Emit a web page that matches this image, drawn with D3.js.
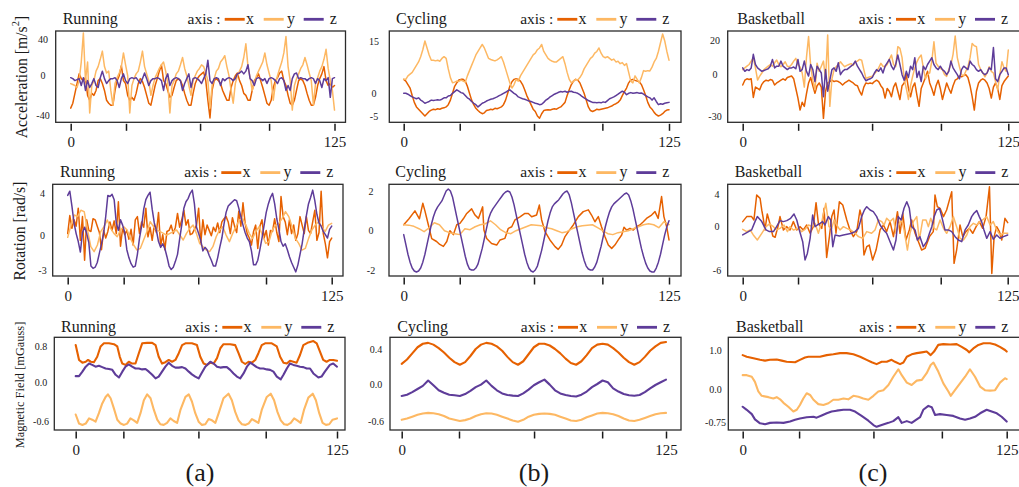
<!DOCTYPE html>
<html><head><meta charset="utf-8">
<script src="https://cdn.jsdelivr.net/npm/d3@7"></script>
<style>
body{margin:0;background:#fff}
svg{display:block}
text{font-family:"Liberation Serif","Times New Roman",serif;fill:#1a1a1a}
</style>
</head><body>
<svg id="chart" width="1019" height="487"></svg>
<script>
// ---------------- DATA ----------------
const activities = ["Running", "Cycling", "Basketball"];
const axisNames = ["x", "y", "z"];
const panelLetters = ["(a)", "(b)", "(c)"];
const yTitles = ["Acceleration [m/s", "Rotation [rad/s]", "Magnetic Field [mGauss]"];
const xTickLabelValues = [0, 125];
// y tick values and labels per sensor row, per activity
const accTicks = [[-40, 0, 40], [-5, 0, 15], [-30, 0, 20]];
const rotTicks = [[-3, 0, 4], [-2, 0, 2], [-6, 0, 4]];
const magTicks = [[-0.6, 0, 0.8], [-0.6, 0, 0.4], [-0.75, 0, 1.0]];
const accTickText = [["-40", "0", "40"], ["-5", "0", "15"], ["-30", "0", "20"]];
const rotTickText = [["-3", "0", "4"], ["-2", "0", "2"], ["-6", "0", "4"]];
const magTickText = [["-0.6", "0.0", "0.8"], ["-0.6", "0.0", "0.4"], ["-0.75", "0.0", "1.0"]];
// x tick values (sample index) per row, per activity
const xTickVals = [
  [[0, 26.2, 61.3, 94, 125], [0, 26.4, 61.4, 93.6, 125], [0, 26.1, 60.9, 93.3, 125]],
  [[0, 26.5, 61.8, 93.9, 125], [0, 26.4, 61.4, 93.6, 125], [0, 26.1, 61.1, 93.4, 125]],
  [[0, 22.8, 58.7, 90.9, 125], [0, 27.1, 62.6, 94.8, 125], [0, 26.7, 61.9, 94.3, 125]]
];

// ---- Acceleration, Running (126 samples each) ----
const accRunX = [-33,-28,-18,-8,2,-3,-5,-2,-20,-25,
-18,-20,-15,-5,-3,-8,-15,-25,-28,-30,
-30,-15,-5,0,11,-5,-8,-20,-25,-22,
-25,-18,-8,-3,-6,-12,-20,-28,-30,-20,
-10,-3,5,12,-5,-8,-15,-22,-20,-12,
-5,-3,-5,-10,-18,-25,-30,-30,-18,-8,
-3,0,2,4,-5,-25,-43,-15,-5,-3,
-5,-8,-15,-20,-25,-25,-12,-5,0,3,
-5,-10,-18,-20,-25,-25,-15,-5,-2,2,
-5,-12,-20,-28,-30,-25,-12,-5,-2,3,
5,-5,-10,-20,-28,-30,-25,-15,-5,-3,
-5,-10,-18,-25,-30,-30,-22,-10,-3,2,
10,-5,-10,-8,-12,-10];
const accRunY = [-8,-9,-10,-12,-5,15,47,-5,15,-38,
-10,-5,5,10,18,27,10,3,5,-15,
-30,-8,-2,3,10,25,12,0,-38,-10,
-3,2,5,15,27,10,2,-5,-20,-10,
-2,3,8,12,15,5,-8,-38,-10,-5,
2,5,12,20,8,0,-10,-20,-5,0,
5,8,12,10,3,-5,-33,-10,-3,5,
8,15,18,22,10,0,-15,-28,-8,0,
5,10,20,35,10,-2,-15,-8,0,5,
10,15,25,12,3,-5,-25,-8,0,8,
15,25,43,10,-5,-35,-10,-3,2,8,
12,20,12,3,-5,-30,-8,-2,5,10,
18,29,8,-5,-15,-35];
const accRunZ = [-2,-3,-5,-4,-3,-10,-2,-15,-5,-12,
-8,-3,-10,-12,-2,5,-3,-8,-5,-3,
-3,-2,-5,-12,-3,2,-5,-8,-3,-2,
-3,-2,-5,-8,-3,3,-3,-10,-5,-3,
-3,-2,-3,-5,-15,-3,2,-10,-5,-3,
-2,-3,-5,-15,-8,-3,2,-12,-3,-2,
-3,-5,-8,-3,2,17,-5,-8,-3,-2,
-3,-10,-3,-5,-3,-2,-3,-5,-3,2,
3,5,2,5,12,-3,-5,-10,-3,-2,
-3,-5,-3,-8,-3,-2,-3,-5,-8,-3,
-2,-5,-15,-10,-15,-3,2,3,-3,-2,
-3,-3,-5,-3,-2,-3,-8,-3,-5,-12,
-3,-5,-2,-22,-3,-2];

// ---- Acceleration, Cycling ----
const accCycX = [4,3.5,2.5,1.5,-0.5,-2,-3,-3.5,-4,-4.5,
-5,-4.5,-4,-3.7,-3.5,-3.6,-3.4,-3.5,-3.3,-3.2,
-3,-2.5,-1.5,0,2,3,3.8,4,4,3.5,
2,0,-1.5,-2.5,-3.3,-3.8,-4.2,-4.5,-4.3,-3.8,
-3.7,-3.5,-3.6,-3.3,-3.4,-3.2,-3,-2.5,-1.5,0,
2,3.3,4,4.2,4,3.5,2.5,1,-0.5,-1.5,
-2.5,-3.5,-4,-5,-5.5,-4.5,-3.8,-3.7,-3.6,-3.7,
-3.5,-3.4,-3.5,-3.2,-3,-2.5,-2,-0.5,1,2.5,
3.5,4,3.8,3,1.5,0,-1.5,-3,-3.8,-4,
-3.8,-3.5,-3.6,-3.5,-3.4,-3.3,-3.2,-3,-2.8,-2.5,
-2.3,-2,-1.5,-0.5,0.5,1.5,3,3.8,4,3.7,
3.5,3.3,2.5,1,-0.5,-2,-3,-3.5,-4.2,-4.7,
-5,-4.8,-4.5,-4,-3.7,-3.6];
const accCycY = [4,4,5,5.5,6,7,8,9,10.5,12.5,
15,13,11,9.5,9.5,9.3,9.5,9.2,10,10.5,
10,7,4.5,3,3.2,3.5,3.4,3.8,3.5,3.2,
5,6.5,8,9.5,11,12,13,14,13,11.5,
10,9.7,9.5,9.3,9.6,10,10.5,9,7,5,
3,1.5,2.5,4,3.5,5,6,7,8,9,
10,11,11.5,12.5,13,14,12,11,10,9.5,
9.2,9,9,9.5,10,10.5,8.5,6,4,3,
3.5,4,3.8,4.5,5.5,7,8,9,10,10.5,
11.5,12,13,11.5,10.5,10.2,10.5,10,9.5,9.8,
9,9.2,8.5,8.8,8,8.5,6,3.5,3,5,
4,3,4.5,6.5,6.3,6.5,6.4,7.5,9,10,
12,14.5,17,15,12,9.5];
const accCycZ = [0,0,-0.2,-0.5,-0.8,-1,-1.2,-1,-1.5,-1.8,
-2.2,-2,-1.8,-1.5,-1.6,-1.5,-1.4,-1.5,-1.3,-1,
-1,-0.6,-0.5,0,0.5,1,0.6,0.2,0,-0.5,
-1,-1.3,-1.8,-2.2,-2.5,-3,-2.6,-2.2,-2,-1.7,
-1.5,-1.3,-1.2,-1,-0.8,-0.5,-0.3,0,0.3,0.7,
1,0.5,0,-0.3,-0.8,-1,-1.2,-1.3,-1.5,-1.7,
-1.8,-2,-2.2,-2.3,-2.5,-2.4,-2,-1.5,-1.2,-0.8,
-0.5,-0.2,0,0.3,0.5,0.4,0.6,0.3,0.5,0.6,
0.3,0.2,0,-0.3,-0.7,-1,-1.3,-1.6,-1.8,-2,
-2,-2.1,-2,-2.1,-1.9,-2,-1.6,-1.2,-1,-0.8,
-0.5,-0.2,0.2,0.6,0.3,-0.3,0,0.2,0,0.1,
0.2,0,0.1,-0.2,-0.5,-0.8,-1,-1.5,-1,-1.8,
-2.5,-2.3,-2.4,-2.2,-2.1,-2];

// ---- Acceleration, Basketball ----
const accBasX = [-7.5,-4,-3,-3.5,-3,-16.5,-9,-10,-11,-7,
-5,-4,-4.5,-3.5,-4,-7.5,-6,-5,-4,-3,
-4,-2,-1.5,-1,-3,-10,-17,-25.7,-20,-23,
-14,-6,-2,-8,-13.5,-8,-6,-9,-31.7,-12,
-6,-5,-4,-5,-4.5,-5,-6,-7.5,-6,-5,
-4,-5,-6,-7.5,-8,-12,-14.8,-9,-6,-6.5,
-6,-6.5,-5,-4,-5,-8,-10,-17,-10,-12,
-16,-9,-6,-12,-18,-8,-6,0,-10,-16,
-9,-6,-15,-23,-10,-6,-2,2,-6,-10,
-15,-8,-4,-10,-18,-12,-6,-10,-13.5,-8,
-4,-3,-1,-1.5,-0.5,0,-2,-8,-16,-25.7,
-12,-6,-4,-3,-4,-6,-10,-17,-9,-6,
-10,-18,-8,-5,-3,-1];
const accBasY = [3,4,5,6,8,10,4,-3.9,-1,1,
3,4,5,6,5,7,8.6,6,4.7,6,
7.6,5,4.7,6,8,9.6,6,4.5,1,-9,
10,22.4,5,-4,-11,6.7,2,5,8,-3,
23.3,-23,-3,3,4.7,6,7.6,6,4.7,5.5,
6,6.5,5.5,7.6,8,9,8.5,3,-2.7,-2,
-1.5,-1.2,0.5,2,4,6.7,5,4.7,6,9,
11.6,6,4.7,16.5,15.5,10,-3,-10,-18,-8,
-1,4,7.6,10,11.6,4,-3,0,1,8,
19.4,6.7,5,3.7,3,0,-1.2,3,6,12,
22.7,10,4.7,0,-1,2,4.7,10,18.4,17,
16.5,6,3,1,-1.5,1,4.7,2,1,-5,
-11,0,7.6,4,2,14.5];
const accBasZ = [4,2,3,2.5,4,12,6,4,3,2,
2.5,3,3.5,5,9,4,5,5,8,5,
4,3,4,4,4.5,3.5,9,2,3,8,
2,-1,6,3,-5,5,3,1,-16,3,
-12,-4,3,4,2,7,0,2,3,3,
4,5,6,8,5,3,1,-2,-4.4,-3.5,
-3,-2,1,3,2,4,1,5,7,9,
5,3,6,11.6,6,0,-4,2,-2,5,
3,10,-2,2,-5,5,3,6,8,10,
6,4,3,5,3,2,0,2,8,4,
2,0,-3,3,5,4,3,8,6,5,
3,2,3,1,0,1,4,3,16,-3,
-5,0,2,4,4,0];

// ---- Rotation, Running ----
const rotRunX = [0.2,1.9,0.7,1.5,0.9,2.6,-0.4,1.8,-2.1,1.5,
0.5,0.4,1.6,1.5,0.9,0.3,-1.2,0.5,-0.2,0.4,
1.3,0.5,1.4,0.2,3.2,-0.9,0.7,0.1,0.5,-0.3,
0.6,-0.8,1.5,1.8,0.2,1.3,0.8,2.6,-0.1,0.8,
-0.4,1.0,0.3,2.2,-0.9,0.1,-1.2,0.4,0.5,1.0,
0.2,0.8,2.1,0.8,1.5,2.4,1.0,1.5,0.1,0.2,
0.6,1.0,2.6,-0.7,1.5,0.1,1.0,0.5,0,0.8,
0.4,1.2,0.3,1.3,1.6,1.8,1.3,0.2,1.7,0.9,
0.3,2.3,0.9,3.1,1.2,0.2,-0.2,-0.8,0.4,1.0,
-1.1,0.9,1.5,-0.2,0.5,-0.8,0.5,0.4,1.6,0.3,
-0.5,3.7,1.8,1.3,0.1,1.5,0.2,1.0,-0.4,0.2,
1.8,1.0,0.2,1.8,0.5,0.2,1.3,2.4,-0.4,0.3,
4.2,0.2,-0.7,-1.9,-0.5,-0.2];
const rotRunY = [-0.14,1.0,1.95,1.8,2.4,2.27,0.54,-0.94,-1.37,-0.8,
0.38,0.85,1.48,0.69,0.22,-0.09,0.54,0.85,0.54,-0.23,
-0.8,-1.23,-1.09,-0.37,0.38,1.32,0.85,0.54,0.38,0.22,
0.06,0.22,0.38,0.54,0.06,-0.37,0.22,0.69,1.0,0.22,
-0.66,-0.94,-1.23,-1.37,-0.94,-0.09,0.54,0.85,0.06,-0.51,
0.22,0.85,1.48,1.64,1.0,0.22,-0.23,0.38,0.85,0.06,
-0.66,-0.51,0.54,1.0,1.17,1.64,2.27,1.8,0.85,-0.23,
-0.66,-1.23,-1.09,-0.23,0.54,1.0,1.32,0.85,0.38,1.0,1.17];
const rotRunZ = [3.8,4.2,2.8,1.2,0.2,-0.5,-1.4,0.3,0.8,0.2,
-0.6,-2.6,-2.8,-2.7,-2.3,-1.5,-0.7,0.2,1.8,3.8,
3.7,3.9,3.4,1.2,0.5,1.5,1.0,0.3,-1.2,-1.9,
-2.4,-2.7,-2.6,-1.6,-0.2,0.9,2.5,3.4,3.8,4.1,
2.5,1.2,0.5,-0.5,-1.0,-0.7,-1.1,-1.8,-2.6,-2.9,
-2.7,-2.2,-1.6,-0.3,1.0,2.6,3.2,3.5,4.0,4.3,
3.0,0.8,0.2,-0.4,-1.3,-1.0,-1.2,-1.7,-2.1,-2.6,
-2.6,-1.9,-1.0,-0.2,1.1,2.2,2.8,3.0,3.2,3.4,
3.3,2.6,1.8,1.0,0.3,-0.2,-0.5,-1.3,-2.5,-2.5,
-2.1,-1.2,-0.2,1.0,2.2,3.0,3.6,4.0,3.0,1.6,
0.6,-0.5,-0.9,-0.7,-1.2,-1.8,-2.3,-2.7,-3.1,-2.5,
-1.6,-0.7,0.6,1.9,3.0,3.6,4.3,3.3,2.0,1.2,
0.9,0.4,0.1,-0.2,0.6,0.9];

// ---- Rotation, Cycling ----
const rotCycX = [[0,0.3],[2.5,0.6],[5.3,1.0],[7.4,0.6],[9,1.38],[10,1.0],[11.6,0.3],[13.2,-0.4],[15.5,-0.55],[17,-0.7],
[18.7,-0.8],[20.3,-0.55],[21.8,0],[23.4,-0.2],[25,0.3],[26.5,0.37],[28.1,0.6],[29.7,0.87],[32,1.1],[33.6,0.79],
[35.2,0.62],[37.2,1.2],[37.8,0.03],[39.1,-0.4],[41.4,-0.65],[43.8,-0.73],[45.4,-0.47],[47.7,-0.39],[49.3,0.12],[50.9,0.2],
[52.4,0.54],[54.8,0.7],[57.1,0.87],[58.7,0.87],[60.3,0.7],[62.6,0.79],[63.9,1.29],[65,0.54],[66.6,-0.05],[68.9,-0.47],
[71.3,-0.81],[72.8,-0.95],[74.4,-0.73],[76,-0.3],[77.6,-0.05],[79.9,0.29],[82.3,0.71],[84.6,0.96],[87,1.05],[88.5,0.79],
[90.1,0.45],[91.7,0.71],[93.2,0.2],[94.8,-0.3],[96.4,-0.73],[98,-0.9],[99.5,-0.73],[101.1,-0.47],[102.7,-0.22],[103.8,0.17],
[105,0.03],[106.6,0.12],[108.2,0.03],[109.7,0.2],[111.3,0.29],[112.9,0.45],[114.4,0.62],[116.8,0.79],[118.4,0.96],[119.9,0.62],
[121.5,1.72],[122.6,0.71],[123.9,0.2],[125,-0.47]];
const rotCycY = [0.3,0.28,0.22,0.1,-0.05,0.15,0.4,0.3,0.0,-0.1,
-0.15,-0.2,0.1,0.05,0.2,0.3,0.35,0.5,0.3,0.05,
-0.1,-0.15,0.0,0.1,0.2,0.3,0.28,0.25,0.15,0.1,
0.0,-0.1,-0.05,0.1,0.2,0.25,0.28,0.3,0.15,0.0,
-0.15,-0.2,-0.1,-0.05,0.0,0.1,0.2,0.3,0.35,0.3,
0.15,0.45,0.3];
const rotCycZ = [-0.2,-0.7,-1.2,-1.6,-1.9,-2.05,-2.1,-2.05,-1.9,-1.6,
-1.2,-0.7,-0.2,0.3,0.7,1.0,1.2,1.35,1.5,1.75,
2.0,2.1,2.0,1.7,1.2,0.7,0.2,-0.3,-0.8,-1.3,
-1.7,-1.95,-2.0,-2.0,-1.9,-1.7,-1.3,-0.9,-0.4,0.1,
0.6,0.9,1.1,1.25,1.4,1.55,1.7,1.85,1.95,2.0,
1.95,1.7,1.3,0.8,0.3,-0.2,-0.7,-1.2,-1.6,-1.9,
-2.05,-2.1,-2.0,-1.8,-1.4,-1.0,-0.5,0,0.5,0.9,
1.2,1.35,1.45,1.55,1.7,1.85,1.95,2.0,1.8,1.4,
0.9,0.4,-0.1,-0.6,-1.1,-1.5,-1.8,-1.95,-2.0,-2.0,
-1.85,-1.6,-1.2,-0.8,-0.3,0.2,0.6,0.95,1.2,1.35,
1.45,1.55,1.65,1.75,1.85,1.9,1.8,1.5,1.1,0.6,
0.1,-0.4,-0.9,-1.3,-1.65,-1.9,-2.05,-2.1,-2.1,-1.9,
-1.6,-1.2,-0.7,-0.2,0.2,0.5];

// ---- Rotation, Basketball ----
const rotBasX = [[0,0.58],[1.9,1.2],[4.2,1.2],[5.3,0.78],[6.6,3.88],[8.2,3.46],[9,2.0],[9.7,0.99],[10.5,-0.5],[11.6,1.53],
[12.6,0.58],[14.2,-1.33],[15.3,-1.51],[16.8,0.16],[17.6,1.2],[19.2,-0.5],[20.8,-0.05],[22.3,-0.5],[23.9,0.58],[25.5,-0.5],
[27,-0.05],[28.6,-0.5],[30.2,0.16],[31.8,-0.96],[33.3,-0.05],[34.6,2.93],[35.7,0.37],[37.3,-0.28],[38.4,2.23],[39.6,-4.27],
[40.9,-1.42],[42,1.2],[43.1,2.02],[44,-0.96],[45.6,3.05],[47.2,2.64],[49.1,0.78],[50.6,-0.5],[52.2,-1.42],[53.8,-0.73],
[55.3,2.02],[56.1,1.2],[57.2,-3.94],[58.5,-2.8],[59.7,-2.57],[61.3,-4.63],[62.9,-3.26],[64.8,-0.5],[66.4,0.16],[67.9,-0.73],
[69.5,0.58],[71.1,-1.42],[73,1.81],[74.2,-0.96],[75.5,1.61],[77,-1.88],[78.6,-0.5],[79.7,0.78],[81.3,-0.96],[82.9,-2.11],
[84.4,-3.26],[86,-3.03],[88.1,-1.42],[89.9,-0.73],[90.7,3.88],[91.8,2.43],[93.1,2.23],[94.7,1.2],[96.2,2.02],[98.6,4.29],
[99.7,-5.09],[100.9,-3.26],[102.5,0.16],[103.8,-1.42],[105.3,-0.73],[106.9,-0.28],[108.5,-0.96],[110.1,-0.05],[111.6,0.58],[113.2,-0.28],
[114.8,1.2],[116.4,4.9],[117.5,-6.47],[118.6,-1.42],[119.8,-0.05],[121.1,-0.73],[122.2,-1.88],[123.7,0.99],[125,0.45]];
const rotBasY = [[0,-0.41],[1.9,-0.73],[3.5,-0.5],[5,-1.19],[6.9,-1.88],[9,-0.96],[11,-0.05],[12.6,0.29],[14.5,-0.05],[16,-0.5],
[17.6,-0.28],[19.5,0.16],[21.1,-0.73],[22.3,-0.05],[23.9,-0.5],[26.3,-0.28],[27.8,-0.73],[29.4,-0.41],[31,0.16],[33,-0.05],
[34.1,0.37],[35.7,-0.96],[37.3,0.58],[39.2,2.85],[40.7,-0.05],[42,-0.28],[43.1,0.78],[44.3,0.16],[45.9,-0.5],[47.5,-0.05],
[49.1,-0.28],[50.9,-0.5],[53,-0.96],[54.6,-1.42],[56.6,-1.65],[58.5,-0.73],[60.8,-0.96],[62.4,-0.5],[64,0.78],[65.6,0.58],
[66.7,0.16],[67.9,0.99],[69.5,0.58],[71.1,0.99],[72.3,-0.96],[73.4,0.16],[75,0.78],[76.1,-0.5],[77.7,-3.26],[78.9,-0.96],
[80.5,0.58],[82.1,1.2],[83.3,-1.88],[84.9,0.78],[86.5,0.78],[87.6,-0.05],[88.7,0.99],[90.3,-0.28],[91.5,-0.5],[93.1,0.78],
[94.7,-0.28],[96.2,-0.96],[97.8,-0.05],[99.4,1.2],[100.9,-0.05],[102.5,-1.65],[104.1,-1.88],[105.7,-1.19],[107.2,-0.05],[108.8,0.37],
[110.4,0.16],[111.9,0.58],[113.5,0.87],[115.1,1.2],[116.7,0.16],[118.2,0.58],[119.8,-0.5],[121.4,-1.19],[123,-0.96],[125,-0.96]];
const rotBasZ = [[0,-1.19],[1.9,-0.87],[4.2,-0.5],[5.8,0.58],[6.9,1.2],[9,0.58],[11,-0.5],[12.6,-0.73],[14.5,-0.73],[16,-0.05],
[17.6,0.7],[19.2,0.58],[20.8,0.7],[22.6,0.99],[24.2,1.53],[25.5,0.78],[26.7,-0.5],[28.3,-2.11],[29.4,-4.63],[30.5,-3.72],
[31.8,-1.65],[33,1.4],[34.1,-0.05],[35.2,0.16],[36.5,0.37],[37.7,0.58],[38.8,0.16],[40.4,1.2],[41.5,0.78],[42.5,-2.8],
[43.6,-1.19],[45.6,-1.33],[47.5,-1.19],[49.8,-1.06],[51.4,-0.96],[53,-0.73],[54.6,-0.28],[56.1,1.2],[57.4,2.02],[58.5,2.43],
[60.1,2.02],[61.6,1.81],[63.2,1.2],[64.8,0.16],[66.4,-0.5],[67.9,-0.96],[69.5,-2.11],[71.1,-3.26],[72.3,-1.88],[73.4,1.2],
[74.7,0.78],[76.1,2.23],[77.4,3.05],[78.6,2.23],[79.7,-0.05],[81.3,-0.5],[82.4,-1.88],[83.6,-1.42],[85.2,-2.8],[86.8,-2.11],
[88.1,-0.96],[89.2,-0.05],[90.3,1.2],[91.5,2.02],[92.8,2.23],[93.9,1.2],[95.4,-0.5],[97,-0.5],[98.6,-0.73],[100.2,-1.42],
[101.7,-1.88],[103.3,-2.11],[104.9,-0.5],[106.4,0.16],[108,1.2],[109.1,1.61],[110.4,1.94],[111.6,1.2],[112.7,0.58],[113.8,-0.5],
[115.1,-1.65],[116.7,-0.73],[118.2,-1.79],[119.8,-1.19],[121.4,-1.65],[123,-1.42],[125,-1.19]];

// ---- Magnetic field, Running ----
const magRunX = [[0,0.82],[1.6,0.49],[3.2,0.43],[4.8,0.45],[5.9,0.49],[7.2,0.45],[8.7,0.44],[10.3,0.56],[11.9,0.79],[13.5,0.86],
[15.9,0.86],[18.3,0.84],[19.9,0.79],[21.1,0.56],[22.3,0.41],[23.8,0.38],[25.4,0.45],[27,0.41],[28.6,0.41],[30.2,0.64],
[31.8,0.86],[34.2,0.87],[36.6,0.87],[38.2,0.82],[39.7,0.56],[41.3,0.41],[42.9,0.44],[44.5,0.49],[46.1,0.45],[47.7,0.49],
[49.3,0.64],[50.9,0.82],[52.5,0.86],[55.6,0.86],[58,0.82],[59.6,0.56],[61.2,0.41],[62.8,0.38],[64.4,0.43],[66,0.41],
[67.6,0.53],[69.2,0.75],[70.7,0.84],[73.9,0.84],[76.3,0.82],[77.9,0.64],[79.5,0.45],[81.1,0.4],[82.7,0.45],[84.3,0.43],
[85.9,0.49],[87.4,0.64],[89,0.82],[90.6,0.86],[93.8,0.86],[96.2,0.79],[97.8,0.56],[99.4,0.43],[101,0.41],[102.5,0.47],
[104.1,0.45],[105.7,0.43],[107.3,0.6],[108.9,0.82],[111.3,0.88],[113.7,0.91],[115.3,0.86],[116.9,0.67],[118.4,0.49],[120,0.45],
[121.6,0.49],[123.2,0.49],[125,0.47]];
const magRunY = [[0,-0.5],[1.6,-0.64],[3.2,-0.66],[4.8,-0.64],[6.4,-0.56],[7.9,-0.58],[9.5,-0.61],[11.1,-0.48],[12.7,-0.33],[14.3,-0.23],
[15.4,-0.19],[16.7,-0.25],[18.3,-0.41],[19.9,-0.58],[21.5,-0.64],[23.1,-0.66],[24.6,-0.64],[26.2,-0.56],[27.8,-0.59],[29.4,-0.63],
[31,-0.48],[32.6,-0.28],[34.2,-0.19],[35.8,-0.25],[37.4,-0.43],[39,-0.58],[40.5,-0.65],[42.1,-0.66],[43.7,-0.63],[45.3,-0.56],
[46.9,-0.6],[48.5,-0.63],[50.1,-0.43],[52.5,-0.23],[54.1,-0.19],[55.6,-0.3],[57.2,-0.48],[58.8,-0.61],[60.4,-0.66],[62,-0.65],
[63.6,-0.57],[65.2,-0.59],[66.8,-0.63],[68.4,-0.48],[70.7,-0.25],[73.1,-0.18],[74.7,-0.28],[76.3,-0.46],[77.9,-0.59],[79.5,-0.65],
[81.1,-0.66],[82.7,-0.64],[84.3,-0.57],[85.9,-0.6],[87.4,-0.63],[89,-0.43],[91.4,-0.23],[93.3,-0.18],[94.9,-0.28],[96.5,-0.46],
[98.1,-0.59],[99.7,-0.65],[101.3,-0.66],[102.9,-0.63],[104.5,-0.56],[106,-0.59],[107.6,-0.63],[109.2,-0.43],[111.3,-0.24],[113.4,-0.18],
[114.9,-0.28],[116.5,-0.48],[118.1,-0.63],[119.7,-0.66],[121.3,-0.65],[122.9,-0.58],[125,-0.56]];
const magRunZ = [[0,0.13],[1.6,0.13],[3.2,0.23],[4.8,0.34],[6.4,0.41],[7.9,0.38],[9.5,0.34],[11.1,0.36],[12.7,0.33],[14.3,0.3],
[15.9,0.29],[17.5,0.27],[19.1,0.16],[20.7,0.1],[22.3,0.23],[23.8,0.34],[25.4,0.39],[27,0.34],[28.6,0.3],[30.2,0.3],
[31.8,0.28],[33.4,0.29],[35,0.23],[36.6,0.16],[38.2,0.08],[39.7,0.12],[41.3,0.23],[42.9,0.34],[44.5,0.43],[46.1,0.36],
[47.7,0.32],[49.3,0.32],[50.9,0.33],[52.5,0.3],[54.1,0.23],[55.6,0.17],[57.2,0.12],[58.8,0.08],[60.4,0.21],[62,0.34],
[64.4,0.45],[66,0.41],[67.6,0.34],[69.2,0.32],[70.7,0.33],[72.3,0.33],[73.9,0.27],[75.5,0.19],[77.1,0.12],[78.7,0.08],
[80.3,0.19],[81.9,0.34],[83.5,0.43],[85.1,0.38],[86.6,0.33],[88.2,0.3],[89.8,0.3],[91.4,0.28],[93,0.27],[94.6,0.23],
[96.2,0.12],[98.1,0.06],[99.4,0.16],[101,0.3],[102.5,0.41],[104.1,0.38],[105.7,0.36],[107.3,0.34],[108.9,0.33],[110.5,0.3],
[112.1,0.3],[113.7,0.19],[116.1,0.1],[117.6,0.12],[119.2,0.23],[121.6,0.38],[123.2,0.41],[125,0.34]];

// ---- Magnetic field, Cycling (51 samples, every 2.5) ----
const magCycX = [0.23,0.28,0.35,0.42,0.46,0.47,0.45,0.41,0.36,0.3,
0.25,0.22,0.25,0.32,0.4,0.45,0.47,0.46,0.43,0.38,
0.31,0.25,0.22,0.26,0.34,0.42,0.46,0.46,0.44,0.4,
0.35,0.29,0.24,0.22,0.26,0.33,0.41,0.45,0.46,0.45,
0.41,0.36,0.3,0.25,0.22,0.25,0.31,0.38,0.43,0.47,0.48];
const magCycY = [-0.57,-0.55,-0.52,-0.49,-0.47,-0.46,-0.465,-0.48,-0.51,-0.55,
-0.57,-0.59,-0.575,-0.55,-0.51,-0.48,-0.465,-0.47,-0.49,-0.52,
-0.55,-0.58,-0.6,-0.57,-0.52,-0.49,-0.475,-0.47,-0.475,-0.49,
-0.52,-0.55,-0.58,-0.59,-0.57,-0.53,-0.5,-0.47,-0.46,-0.465,
-0.48,-0.51,-0.55,-0.58,-0.59,-0.57,-0.54,-0.51,-0.48,-0.465,-0.46];
const magCycZ = [-0.19,-0.17,-0.13,-0.08,-0.03,0.04,-0.02,-0.1,-0.14,-0.17,
-0.18,-0.19,-0.16,-0.11,-0.05,-0.01,0.04,-0.03,-0.1,-0.15,
-0.175,-0.185,-0.19,-0.15,-0.09,-0.02,0.02,0.05,-0.01,-0.1,
-0.15,-0.175,-0.19,-0.2,-0.17,-0.12,-0.05,0.0,0.04,0.02,
-0.07,-0.12,-0.16,-0.18,-0.186,-0.175,-0.13,-0.07,-0.016,0.02,0.05];

// ---- Magnetic field, Basketball ----
const magBasX = [[0,0.87],[1.9,0.83],[5.1,0.79],[8.2,0.75],[10.6,0.73],[12.9,0.75],[16.1,0.76],[18.5,0.73],[20.8,0.7],[24.8,0.69],
[27.1,0.75],[29.5,0.81],[31.1,0.83],[33.5,0.83],[36.6,0.83],[39.8,0.87],[42.9,0.89],[46.1,0.92],[49.2,0.92],[52.4,0.89],
[55.6,0.83],[58.7,0.75],[61.1,0.69],[63.4,0.64],[65.8,0.7],[68.2,0.7],[70.5,0.75],[72.1,0.7],[74.5,0.64],[76.1,0.68],
[77.7,0.83],[80,0.89],[82.4,0.92],[84.8,0.94],[87.1,0.96],[89,0.87],[90.6,0.96],[92.6,1.13],[95,1.15],[98.2,1.14],
[101.3,1.15],[103.7,1.08],[106.1,1.0],[107.3,0.94],[109.2,1.04],[111.6,1.13],[114,1.17],[117.1,1.17],[119.5,1.14],[121.8,1.08],
[124.2,1.0],[125,0.96]];
const magBasY = [[0,0.36],[1.9,0.36],[4.3,0.32],[5.8,0.19],[7.4,-0.05],[9,-0.15],[12.2,-0.18],[14.5,-0.21],[16.1,-0.18],[17.7,-0.23],
[19.3,-0.31],[21.6,-0.4],[24,-0.51],[25.6,-0.47],[27.1,-0.36],[28.7,-0.21],[30.3,-0.09],[31.9,-0.13],[33.5,-0.24],[35.8,-0.34],
[38.2,-0.36],[40.6,-0.32],[42.9,-0.24],[45.3,-0.24],[47.7,-0.21],[50,-0.23],[52.4,-0.15],[54.8,-0.17],[57.1,-0.21],[59.5,-0.24],
[61.9,-0.15],[64.2,-0.05],[66.6,-0.02],[69,0.11],[71.3,0.32],[73.7,0.51],[75.3,0.36],[77.7,0.17],[80,0.11],[82.4,0.22],
[84.8,0.24],[87.1,0.41],[89,0.62],[90.3,0.68],[92.6,0.45],[95,0.15],[97.4,-0.05],[98.5,-0.15],[100.5,-0.02],[102.9,0.15],
[105.3,0.32],[107.6,0.51],[110,0.32],[112.4,0.07],[114.7,-0.02],[117.1,-0.03],[119.5,-0.02],[121.8,0.17],[124.2,0.28],[125,0.26]];
const magBasZ = [[0,-0.4],[1.9,-0.47],[4.3,-0.57],[5.8,-0.69],[8.2,-0.78],[10.6,-0.8],[12.9,-0.77],[16.1,-0.76],[19.3,-0.77],[22.4,-0.74],
[24.8,-0.7],[27.1,-0.67],[30.3,-0.64],[33.5,-0.63],[35,-0.65],[37.4,-0.6],[39.8,-0.55],[42.1,-0.51],[44.5,-0.49],[47.7,-0.47],
[50.8,-0.47],[53.2,-0.51],[56.3,-0.61],[59.5,-0.72],[61.9,-0.82],[63.4,-0.86],[65.8,-0.82],[69,-0.77],[71.3,-0.73],[73.7,-0.64],
[75.3,-0.77],[77.7,-0.73],[80,-0.77],[82.4,-0.69],[84,-0.64],[85.5,-0.47],[87.9,-0.38],[89.5,-0.41],[91.1,-0.59],[93.4,-0.57],
[96.6,-0.59],[99.7,-0.61],[102.9,-0.67],[105.3,-0.7],[107.6,-0.67],[110,-0.63],[112.4,-0.55],[115.5,-0.47],[117.9,-0.51],[120.3,-0.55],
[122.6,-0.63],[125,-0.74]];

const sensorData = [
  [[accRunX, accRunY, accRunZ], [accCycX, accCycY, accCycZ], [accBasX, accBasY, accBasZ]],
  [[rotRunX, rotRunY, rotRunZ], [rotCycX, rotCycY, rotCycZ], [rotBasX, rotBasY, rotBasZ]],
  [[magRunX, magRunY, magRunZ], [magCycX, magCycY, magCycZ], [magBasX, magBasY, magBasZ]]
];
const sensorTicks = [accTicks, rotTicks, magTicks];
const sensorTickText = [accTickText, rotTickText, magTickText];

// ---------------- LAYOUT / STYLE ----------------
const colors = ["#e66101", "#fdb863", "#5e3c99"];
const rowsLayout = [
  {top: 31, bottom: 122.3, titleY: 24, lw: 1.5, yTitle: {x: 20.7, y: 77, size: 15.7}},
  {top: 184.3, bottom: 276, titleY: 177.3, lw: 1.5, yTitle: {x: 19, y: 231, size: 15.7}},
  {top: 337.3, bottom: 430, titleY: 332, lw: 2.1, yTitle: {x: 20, y: 385, size: 12.4}}
];
const panelLayout = [
  [ {L: 55.7, R: 345.5, x0: 70.7, x1: 334.5, ty: [115, 75.7, 39.3], tx: 62.7, E: 336.7, tl: 43},
    {L: 389.3, R: 681, x0: 403.7, x1: 669, ty: [116, 93.3, 41], tx: 396, E: 669.3, tl: 374},
    {L: 727.7, R: 1030, x0: 742.7, x1: 1008.3, ty: [116, 74.7, 40.7], tx: 737.3, E: 1008, tl: 715} ],
  [ {L: 52.7, R: 343, x0: 67.7, x1: 331.7, ty: [270.7, 235.7, 193.3], tx: 60, E: 333.3, tl: 42.5},
    {L: 389, R: 681, x0: 403.7, x1: 669, ty: [270, 230.7, 191], tx: 395.3, E: 669.3, tl: 371},
    {L: 727.7, R: 1030, x0: 742.7, x1: 1007.7, ty: [270, 226.3, 194], tx: 734.7, E: 1008.3, tl: 717} ],
  [ {L: 54.3, R: 345, x0: 75.7, x1: 337, ty: [421, 382, 346], tx: 61, E: 334.3, tl: 41},
    {L: 390, R: 681, x0: 401.7, x1: 666, ty: [421.7, 384, 349], tx: 397.3, E: 670, tl: 376},
    {L: 728.3, R: 1030, x0: 742.7, x1: 1006.7, ty: [422, 389.3, 350], tx: 736, E: 1008.3, tl: 715.5} ]
];
const letterX = [200, 534, 873];

// ---------------- DRAW ----------------
const svg = d3.select("#chart");
const defs = svg.append("defs");

function toPoints(arr) {
  if (Array.isArray(arr[0])) return arr;
  const n = arr.length;
  return arr.map((v, i) => [i * 125 / (n - 1), v]);
}

rowsLayout.forEach((row, r) => {
  // y-axis title
  const yt = svg.append("text")
    .attr("transform", `translate(${row.yTitle.x},${row.yTitle.y}) rotate(-90)`)
    .attr("text-anchor", "middle")
    .attr("dominant-baseline", "central")
    .attr("font-size", row.yTitle.size);
  yt.append("tspan").text(yTitles[r]);
  if (r === 0) {
    yt.append("tspan").text("2").attr("font-size", 10.5).attr("dy", -6);
    yt.append("tspan").text("]").attr("dy", 6);
  }

  panelLayout[r].forEach((p, c) => {
    const x = d3.scaleLinear().domain([0, 125]).range([p.x0, p.x1]);
    const y = d3.scaleLinear().domain(sensorTicks[r][c]).range(p.ty);
    const g = svg.append("g");
    const clipId = `clip-${r}-${c}`;
    defs.append("clipPath").attr("id", clipId)
      .append("rect").attr("x", p.L).attr("y", row.top)
      .attr("width", p.R - p.L).attr("height", row.bottom - row.top);

    // lines
    const line = d3.line().x(d => x(d[0])).y(d => y(d[1]));
    const lg = g.append("g").attr("clip-path", `url(#${clipId})`);
    sensorData[r][c].forEach((s, k) => {
      lg.append("path")
        .attr("d", line(toPoints(s)))
        .attr("fill", "none")
        .attr("stroke", colors[k])
        .attr("stroke-width", row.lw)
        .attr("stroke-linejoin", "round")
        .attr("stroke-linecap", "round");
    });

    // frame
    g.append("rect")
      .attr("x", p.L).attr("y", row.top)
      .attr("width", p.R - p.L).attr("height", row.bottom - row.top)
      .attr("fill", "none").attr("stroke", "#2b2b2b").attr("stroke-width", 1.3);

    // x axis (ticks below frame)
    const xAxis = d3.axisBottom(x)
      .tickValues(xTickVals[r][c])
      .tickSize(7).tickSizeOuter(0)
      .tickFormat(v => xTickLabelValues.includes(v) ? String(v) : "");
    const xg = g.append("g").attr("transform", `translate(0,${row.bottom + 1.5})`).call(xAxis);
    xg.select(".domain").remove();
    xg.selectAll(".tick line").attr("stroke", "#1a1a1a").attr("stroke-width", 1.5);
    xg.selectAll(".tick text").attr("y", 23).attr("dy", null)
      .attr("font-size", 15).attr("font-family", "Liberation Serif, serif").attr("fill", "#1a1a1a");

    // y axis (labels only)
    const yAxis = d3.axisLeft(y)
      .tickValues(sensorTicks[r][c])
      .tickSize(0)
      .tickFormat((v, i) => sensorTickText[r][c][i]);
    const yg = g.append("g").attr("transform", `translate(${p.tl},0)`).call(yAxis);
    yg.select(".domain").remove();
    yg.selectAll(".tick text").attr("x", 0).attr("text-anchor", "middle")
      .attr("font-size", 10).attr("font-family", "Liberation Serif, serif").attr("fill", "#333");

    // title
    g.append("text").attr("x", p.tx).attr("y", row.titleY)
      .attr("font-size", 16).text(activities[c]);

    // legend
    const E = p.E, ly = row.titleY - 4.7;
    g.append("text").attr("x", E - 116).attr("y", row.titleY)
      .attr("text-anchor", "end").attr("font-size", 15.5).text("axis :");
    const segs = [[E - 112, E - 92, E - 86.7], [E - 73, E - 53, E - 45.7], [E - 33, E - 13, E - 3.4]];
    segs.forEach((sg, k) => {
      g.append("line").attr("x1", sg[0]).attr("x2", sg[1]).attr("y1", ly).attr("y2", ly)
        .attr("stroke", colors[k]).attr("stroke-width", 2.8);
      g.append("text").attr("x", sg[2]).attr("y", row.titleY)
        .attr("text-anchor", "middle").attr("font-size", 16).text(axisNames[k]);
    });
  });
});

// panel letters
panelLetters.forEach((t, c) => {
  svg.append("text").attr("x", letterX[c]).attr("y", 481)
    .attr("text-anchor", "middle").attr("font-size", 26).text(t);
});
</script>
</body></html>
